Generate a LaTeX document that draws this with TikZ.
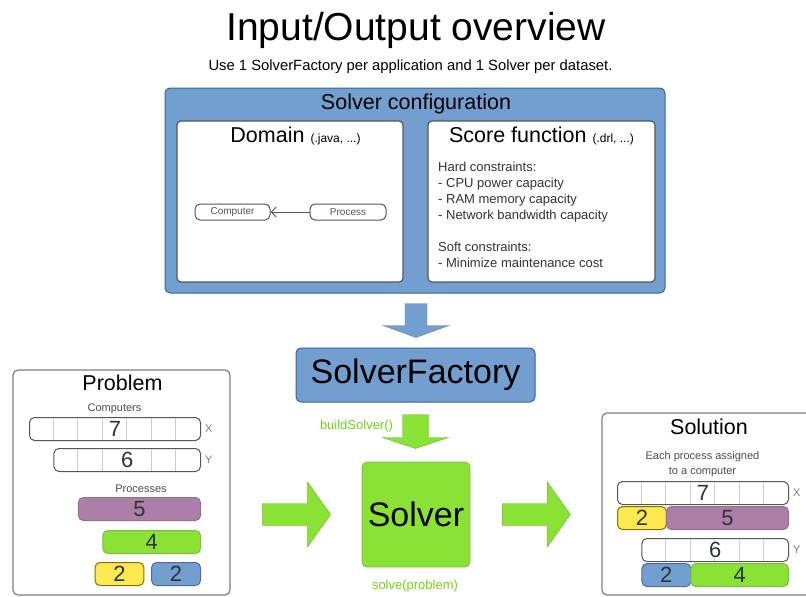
\documentclass[tikz,border=0pt]{standalone}
\usepackage{fontspec}
\setmainfont{Liberation Sans}
\usetikzlibrary{positioning,calc,arrows.meta}

\definecolor{skyblue}{HTML}{729FCF}
\definecolor{skyborder}{HTML}{3465A4}
\definecolor{chameleon}{HTML}{8AE234}
\definecolor{chamborder}{HTML}{4E9A06}
\definecolor{plum}{HTML}{AD7FA8}
\definecolor{plumborder}{HTML}{5C3566}
\definecolor{butter}{HTML}{FCE94F}
\definecolor{butterborder}{HTML}{C4A000}
\definecolor{skydark}{HTML}{204A87}
\definecolor{labelgreen}{HTML}{73D216}
\definecolor{boxgray}{HTML}{555753}
\definecolor{numcol}{HTML}{2E3436}

\newcommand{\fs}[1]{\fontsize{#1}{#1}\selectfont}
% fat block arrow pointing along +x: style, length, shaft half width, head half width, head length
\newcommand{\fatarrow}[5]{%
  \filldraw[#1] (0,-#3) -- (#2-#5,-#3) -- (#2-#5,-#4) -- (#2,0)
    -- (#2-#5,#4) -- (#2-#5,#3) -- (0,#3) -- cycle;}

\tikzset{
  bluebox/.style={fill=skyblue, draw=skyborder, line width=1pt, rounded corners=5pt},
  greenbox/.style={fill=chameleon, draw=chamborder!70, line width=0.8pt, rounded corners=5pt},
  panel/.style={fill=white, draw=boxgray, line width=1.2pt, rounded corners=4pt},
  card/.style={fill=white, draw=gray, line width=1.2pt, rounded corners=5pt},
  classbox/.style={draw=boxgray, line width=1pt, rounded corners=5pt, minimum height=16pt, font={\fs{10}}, text=boxgray},
  cellbar/.style={fill=white, draw=boxgray, line width=1pt, rounded corners=5pt, minimum height=23pt, anchor=north west},
  cellsep/.style={draw=black!20, line width=0.8pt},
  cellnum/.style={fill=white, inner sep=1pt, font={\fs{22}}, text=numcol},
  procbox/.style={line width=1pt, rounded corners=5pt, minimum height=23pt, anchor=north west, font={\fs{22}}, text=numcol},
  axislabel/.style={font={\fs{11}}, text=gray},
  caption/.style={anchor=base, font={\fontsize{11}{15}\selectfont}, text=black!70},
  heading/.style={anchor=base, font={\fs{21.5}}},
  greenflow/.style={fill=chameleon, draw=chameleon!80!black, line width=0.4pt},
  blueflow/.style={fill=skyblue, draw=skyblue!80!black, line width=0.4pt},
}

\begin{document}
\begin{tikzpicture}[x=1pt, y=-1pt, every node/.style={inner sep=0pt}]
  \clip (0,0) rectangle (806,597);

  % Titel
  \node[anchor=base, font={\fs{39}}] (title) at (416,40) {Input/Output overview};
  \node[anchor=base, font={\fs{14.8}}] (subtitle) at (410.5,70.5) {Use 1 SolverFactory per application and 1 Solver per dataset.};

  % Solver configuration
  \node[bluebox, minimum width=500pt, minimum height=205pt] (config) at (415,190.5) {};
  \node[heading] (configtitle) at (416,109.8) {Solver configuration};
  \node[panel, minimum width=226pt, minimum height=161pt] (domain) at (290,201.5) {};
  \node[panel, minimum width=227pt, minimum height=161pt] (score) at (541.5,201.5) {};
  \node[heading] (domaintitle) at (295.5,142.7) {Domain {\fs{12}(.java, ...)}};
  \node[heading] (scoretitle) at (541.5,142.7) {Score function {\fs{12}(.drl, ...)}};
  \node[anchor=north west, align=left, font={\fontsize{13}{16}\selectfont}, text=black!80] (rules) at (438,162.2)
    {Hard constraints:\\- CPU power capacity\\- RAM memory capacity\\- Network bandwidth capacity\\[16pt]Soft constraints:\\- Minimize maintenance cost};

  % Domain classes
  \node[classbox, minimum width=75pt] (computer) at (232.5,212) {Computer};
  \node[classbox, minimum width=76pt] (process) at (348,212) {Process};
  \draw[-{Straight Barb[length=5pt,width=10pt]}, boxgray, line width=1pt] (process) -- (computer);

  % SolverFactory
  \fatarrow{blueflow, shift={($(config.south)+(1,10)$)}, rotate=-90}{34}{11}{33}{12}
  \node[bluebox, minimum width=239pt, minimum height=54pt, font={\fs{34}}] (factory) at (415.5,375) {SolverFactory};

  % Solver
  \fatarrow{greenflow, shift={($(factory.south)+(0,12)$)}, rotate=-90}{34}{13}{33}{11}
  \node[anchor=base, font={\fs{13}}, text=labelgreen] (build) at (356.5,429.6) {buildSolver()};
  \node[greenbox, minimum width=108pt, minimum height=105pt, font={\fs{34}}] (solver) at (416,514.5) {Solver};
  \node[anchor=base, font={\fs{13}}, text=labelgreen] (solve) at (415,589.6) {solve(problem)};

  % Problem
  \node[card, minimum width=217pt, minimum height=225pt] (problem) at (121.5,482.5) {};
  \node[heading] (problemtitle) at (122.5,390.5) {Problem};
  \node[caption] (computers) at (114.5,411) {Computers};
  \node[cellbar, minimum width=171pt] (px) at (29,417) {};
  \foreach \i in {1,...,6}
    \draw[cellsep] ($(px.north west)+(\i*24.43,1)$) -- ($(px.south west)+(\i*24.43,-1)$);
  \node[cellnum] at (px) {7};
  \node[axislabel, right=4pt of px] {X};
  \node[cellbar, minimum width=146.6pt] (py) at (53.4,448) {};
  \foreach \i in {1,...,5}
    \draw[cellsep] ($(py.north west)+(\i*24.43,1)$) -- ($(py.south west)+(\i*24.43,-1)$);
  \node[cellnum] at (py) {6};
  \node[axislabel, right=4pt of py] {Y};
  \node[caption] (processes) at (141,492) {Processes};
  \node[procbox, fill=plum, draw=plumborder!70, minimum width=122.1pt] (pa) at (77.9,497) {5};
  \node[procbox, fill=chameleon, draw=chamborder!70, minimum width=97.7pt] (pb) at (102.3,530) {4};
  \node[procbox, fill=butter, draw=butterborder!70!black, minimum width=48.9pt] (pc) at (94.5,562) {2};
  \node[procbox, fill=skyblue, draw=skydark!80, minimum width=48.9pt] (pd) at (151.1,562) {2};

  % Solution
  \fatarrow{greenflow, shift={($(problem.east |- solver)+(32,0)$)}}{68}{11}{32.5}{23}
  \fatarrow{greenflow, shift={($(solver.east)+(32,0)$)}}{68}{11}{32.5}{23}
  \node[card, minimum width=214pt, minimum height=182pt] (solution) at (709,504) {};
  \node[heading] (solutiontitle) at (709,434.5) {Solution};
  \node[caption, align=center] (assigned) at (702.5,474) {Each process assigned\\to a computer};
  \node[cellbar, minimum width=171pt] (sx) at (617,481) {};
  \foreach \i in {1,...,6}
    \draw[cellsep] ($(sx.north west)+(\i*24.43,1)$) -- ($(sx.south west)+(\i*24.43,-1)$);
  \node[cellnum] at (sx) {7};
  \node[axislabel, right=4pt of sx] {X};
  \node[procbox, fill=butter, draw=butterborder!70!black, minimum width=48.9pt] (sc) at (617,506) {2};
  \node[procbox, fill=plum, draw=plumborder!70, minimum width=122.1pt] (sa) at (665.9,506) {5};
  \node[cellbar, minimum width=146.6pt] (sy) at (641.4,538) {};
  \foreach \i in {1,...,5}
    \draw[cellsep] ($(sy.north west)+(\i*24.43,1)$) -- ($(sy.south west)+(\i*24.43,-1)$);
  \node[cellnum] at (sy) {6};
  \node[axislabel, right=4pt of sy] {Y};
  \node[procbox, fill=skyblue, draw=skydark!80, minimum width=48.9pt] (sd) at (641.4,563) {2};
  \node[procbox, fill=chameleon, draw=chamborder!70, minimum width=97.7pt] (sb) at (690.3,563) {4};
\end{tikzpicture}
\end{document}
